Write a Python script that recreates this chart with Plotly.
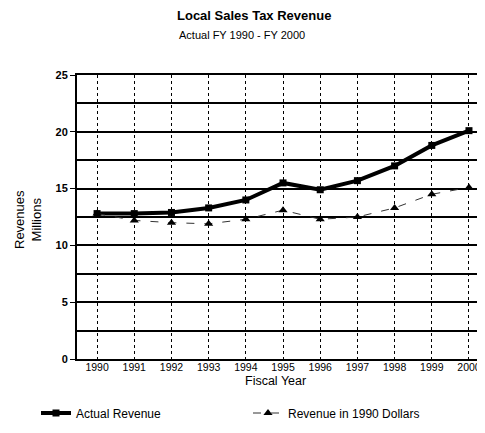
import plotly.graph_objects as go

years = [1990, 1991, 1992, 1993, 1994, 1995, 1996, 1997, 1998, 1999, 2000]
actual_revenue = [12.8, 12.8, 12.9, 13.3, 14.0, 15.5, 14.9, 15.7, 17.0, 18.8, 20.1]
revenue_1990_dollars = [12.8, 12.2, 12.0, 11.9, 12.3, 13.1, 12.3, 12.5, 13.3, 14.5, 15.1]
y_ticks = [0, 5, 10, 15, 20, 25]
x_tick_labels = [str(y) for y in years]

FONT = "Liberation Sans, Arial, sans-serif"

fig = go.Figure()
fig.add_trace(go.Scatter(
    x=years, y=actual_revenue, name="Actual Revenue",
    mode="lines+markers", legend="legend",
    line=dict(color="black", width=4),
    marker=dict(symbol="square", size=7, color="black"),
))
fig.add_trace(go.Scatter(
    x=years, y=revenue_1990_dollars, name="Revenue in 1990 Dollars",
    mode="lines+markers", legend="legend2",
    line=dict(color="#333333", width=1, dash="8px,10px"),
    marker=dict(symbol="triangle-up", size=8, color="black"),
))

# the page body adds an 8px margin on every side; size the figure so the page
# never scrolls and the plot lands where the reference has it
OFF = 8
W, H = 485 - OFF, 433 - 2 * OFF
# plot area in window pixels: x 77..482, y 75..359
L, T = 77 - OFF, 75 - OFF
R = W - (482 - OFF)
B = H - (359 - OFF)
pw, ph = W - L - R, H - T - B

def px_x(x):
    return (x - OFF - L) / pw

def px_y(y):
    return (H - B - (y - OFF)) / ph

leg_common = dict(
    orientation="h", yanchor="middle", xanchor="left",
    font=dict(size=12, family=FONT),
    bgcolor="rgba(0,0,0,0)", borderwidth=0, itemwidth=30,
)

fig.update_layout(
    width=W, height=H,
    margin=dict(l=L, r=R, t=T, b=B, autoexpand=False),
    paper_bgcolor="white", plot_bgcolor="white",
    font=dict(family=FONT, color="black", size=11),
    showlegend=True,
    legend=dict(x=px_x(36), y=px_y(413), **leg_common),
    legend2=dict(x=px_x(248), y=px_y(413), **leg_common),
    xaxis=dict(
        range=[1989.46, 2000.35],
        tickvals=years, ticktext=x_tick_labels,
        showgrid=True, gridcolor="black", gridwidth=1, griddash="dot",
        showline=True, linecolor="black", linewidth=2, mirror=True,
        ticks="", zeroline=False, ticklabelstandoff=-3,
        tickfont=dict(size=10.5, family=FONT),
    ),
    yaxis=dict(
        range=[0, 25],
        tickvals=y_ticks,
        showgrid=True, gridcolor="black", gridwidth=2,
        minor=dict(dtick=2.5, showgrid=True, gridcolor="black", gridwidth=2),
        showline=True, linecolor="black", linewidth=2, mirror=True,
        ticks="outside", ticklen=5, tickwidth=1, tickcolor="black",
        zeroline=False,
        tickfont=dict(size=11, family=FONT, weight="bold"),
    ),
    annotations=[
        dict(text="<b>Local Sales Tax Revenue</b>", xref="paper", yref="paper",
             x=px_x(254), y=px_y(15), xanchor="center", yanchor="middle",
             showarrow=False, font=dict(size=13, family=FONT)),
        dict(text="Actual FY 1990 - FY 2000", xref="paper", yref="paper",
             x=px_x(242), y=px_y(35), xanchor="center", yanchor="middle",
             showarrow=False, font=dict(size=11, family=FONT)),
        dict(text="Revenues<br>Millions", xref="paper", yref="paper",
             x=px_x(28), y=px_y(220), xanchor="center", yanchor="middle",
             textangle=-90, showarrow=False, font=dict(size=13, family=FONT)),
        dict(text="Fiscal Year", xref="paper", yref="paper",
             x=px_x(275), y=px_y(381), xanchor="center", yanchor="middle",
             showarrow=False, font=dict(size=12.5, family=FONT)),
    ],
)

fig.write_html("out.html")
